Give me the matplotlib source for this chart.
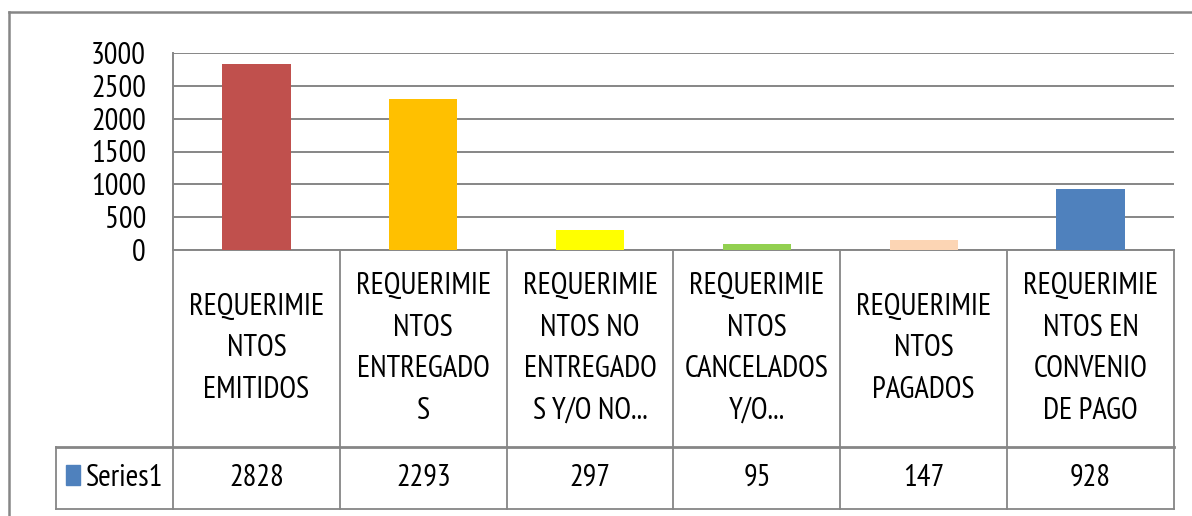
import matplotlib
matplotlib.use("Agg")
import matplotlib.pyplot as plt
from matplotlib import font_manager
from matplotlib.lines import Line2D
from matplotlib.patches import Rectangle
from matplotlib.transforms import blended_transform_factory
import numpy as np

# data
categories = ["REQUERIMIE\nNTOS\nEMITIDOS",
              "REQUERIMIE\nNTOS\nENTREGADO\nS",
              "REQUERIMIE\nNTOS NO\nENTREGADO\nS Y/O NO...",
              "REQUERIMIE\nNTOS\nCANCELADOS\nY/O...",
              "REQUERIMIE\nNTOS\nPAGADOS",
              "REQUERIMIE\nNTOS EN\nCONVENIO\nDE PAGO"]
values = [2828, 2293, 297, 95, 147, 928]
series_name = "Series1"
bar_colors = ["#C0504D", "#FFC000", "#FFFF00", "#92D050", "#FCD5B4", "#4F81BD"]
yticks = [0, 500, 1000, 1500, 2000, 2500, 3000]

names = {f.name for f in font_manager.fontManager.ttflist}
fam = [n for n in ["PT Sans Narrow", "Fira Sans Condensed", "Archivo Narrow", "Carlito"] if n in names]
plt.rcParams["font.family"] = fam[:1] + ["DejaVu Sans"]

grey = "#868686"
W, H = 1192, 516
fig = plt.figure(figsize=(W/100, H/100), dpi=100)
L, R, T, B = 173, 1174, 53, 250   # plot area in pixels
ax = fig.add_axes([L/W, 1-B/H, (R-L)/W, (B-T)/H])

x = np.arange(len(values))
ax.bar(x, values, width=0.41, color=bar_colors, zorder=3)
ax.set_xlim(-0.5, len(values)-0.5)
ax.set_ylim(0, 3000)
ax.set_yticks(yticks)
ax.yaxis.grid(True, color=grey, lw=1.4)
ax.set_axisbelow(True)
ax.spines["top"].set_visible(False)
ax.spines["right"].set_visible(False)
for s in ["left", "bottom"]:
    ax.spines[s].set_color(grey)
    ax.spines[s].set_linewidth(1.4)
ax.tick_params(axis="y", length=0, pad=19.5, labelsize=22)
ax.set_xticks([])

# data table under the axis
tr = blended_transform_factory(ax.transData, ax.transAxes)
colw = (R-L)/len(values)
def py(p):
    return (B-p)/(B-T)
y_c = py(447)
y_v = py(509)
xl = -0.5 + (56-L)/colw

def line(xs, ys, lw=1.3):
    ax.add_line(Line2D(xs, ys, transform=tr, color=grey, lw=lw, clip_on=False))

for e in np.arange(len(values)+1) - 0.5:
    line([e, e], [0, y_v])
line([xl, xl], [y_c, y_v])
line([xl, len(values)-0.5], [y_c, y_c], lw=2)
line([xl, len(values)-0.5], [y_v, y_v])

for i, (c, v) in enumerate(zip(categories, values)):
    ax.text(i, y_c/2, c, transform=tr, ha="center", va="center",
            fontsize=22, linespacing=1.62, clip_on=False)
    ax.text(i, (y_c+y_v)/2, str(v), transform=tr, ha="center", va="center",
            fontsize=22, clip_on=False)

# legend key in the table
ax.add_patch(Rectangle((-0.5 + (66-L)/colw, py(485)), 14/colw, 20/(B-T),
                       transform=tr, color=bar_colors[-1], clip_on=False))
ax.text(-0.5 + (86-L)/colw, (y_c+y_v)/2, series_name, transform=tr,
        ha="left", va="center", fontsize=22, clip_on=False)

# outer chart frame
fig.add_artist(Line2D([9/W, 9/W], [0, 1-12/H], transform=fig.transFigure, color=grey, lw=1.8))
fig.add_artist(Line2D([9/W, 1], [1-12/H, 1-12/H], transform=fig.transFigure, color=grey, lw=1.8))

fig.savefig("out.png", dpi=100)
